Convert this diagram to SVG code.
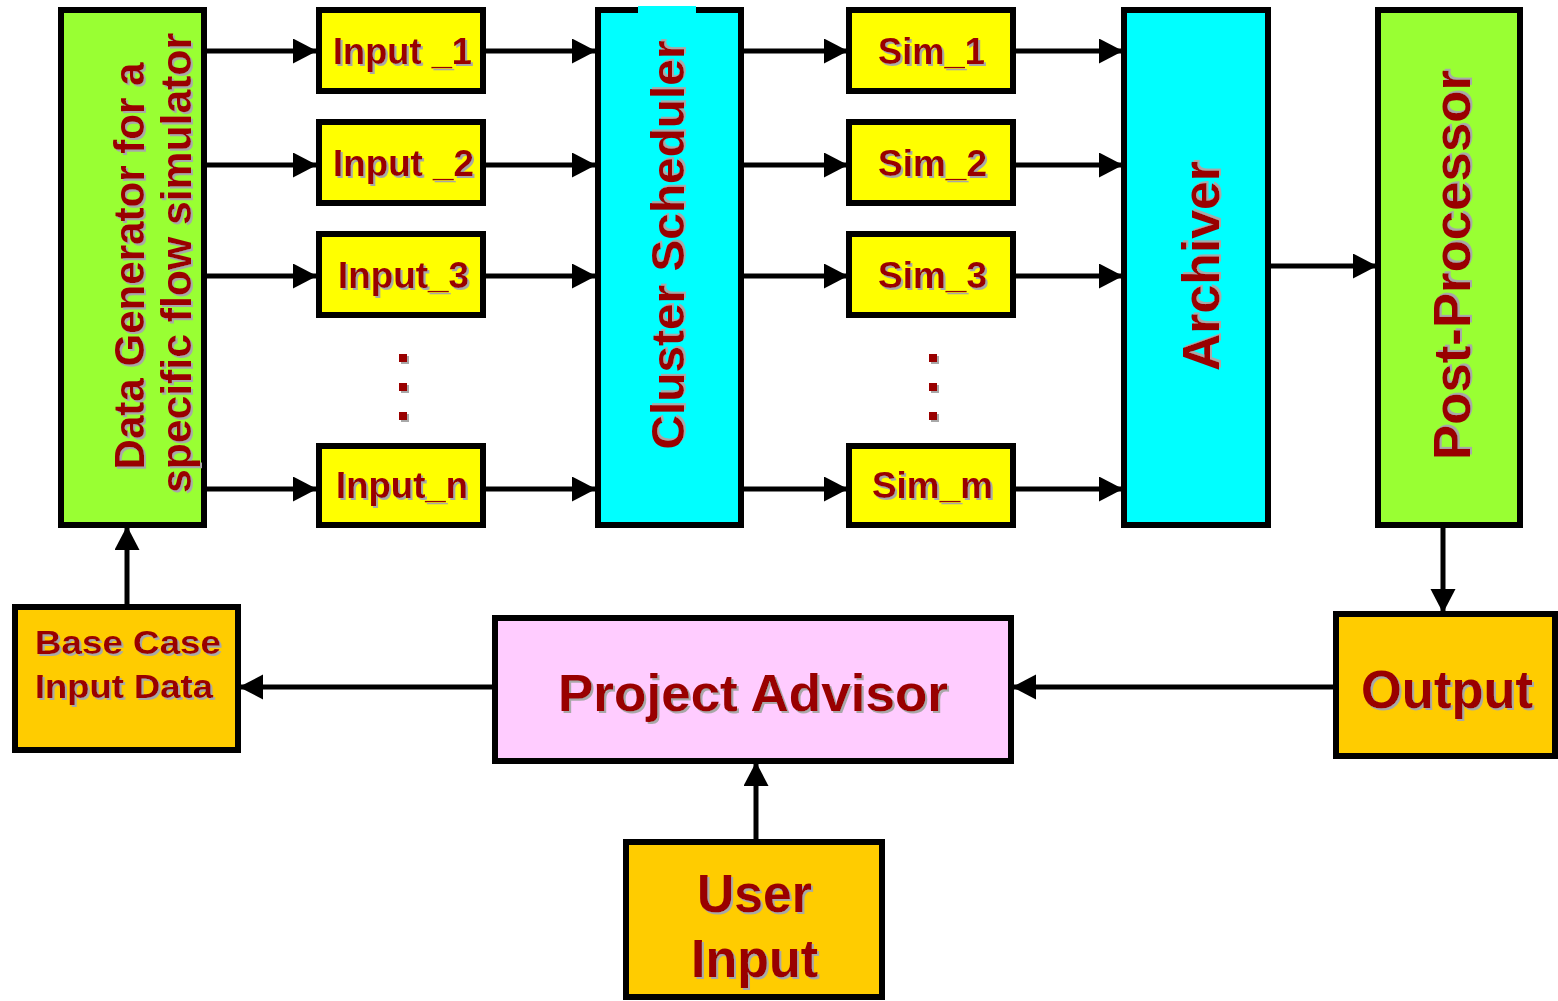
<svg xmlns="http://www.w3.org/2000/svg" width="1558" height="1001" viewBox="0 0 1558 1001">
<defs>
<style>
.box{stroke:#000;stroke-width:6}
.green{fill:#99FF33}.cyan{fill:#00FFFF}.yellow{fill:#FFFF00}.orange{fill:#FFCC00}.pink{fill:#FFCCFF}
.lbl{font-family:"Liberation Sans",Arial,sans-serif;font-weight:bold;fill:#990000}
.conn{stroke:#000;stroke-width:5;fill:none;marker-end:url(#ah)}
</style>
<filter id="sh" x="-10%" y="-10%" width="130%" height="130%">
<feDropShadow dx="2" dy="2" stdDeviation="0.4" flood-color="#a8a8a8" flood-opacity="1"/>
</filter>
<marker id="ah" markerUnits="userSpaceOnUse" markerWidth="25" markerHeight="26" refX="23" refY="12.5" orient="auto">
<path d="M0,0 L24,12.5 L0,25 Z" fill="#000"/>
</marker>
</defs>
<rect width="1558" height="1001" fill="#fff"/>

<g id="connectors">
<line class="conn" x1="206" y1="51" x2="316" y2="51"/>
<line class="conn" x1="206" y1="165" x2="316" y2="165"/>
<line class="conn" x1="206" y1="276" x2="316" y2="276"/>
<line class="conn" x1="206" y1="489" x2="316" y2="489"/>
<line class="conn" x1="485" y1="51" x2="595" y2="51"/>
<line class="conn" x1="485" y1="165" x2="595" y2="165"/>
<line class="conn" x1="485" y1="276" x2="595" y2="276"/>
<line class="conn" x1="485" y1="489" x2="595" y2="489"/>
<line class="conn" x1="743" y1="51" x2="847" y2="51"/>
<line class="conn" x1="743" y1="165" x2="847" y2="165"/>
<line class="conn" x1="743" y1="276" x2="847" y2="276"/>
<line class="conn" x1="743" y1="489" x2="847" y2="489"/>
<line class="conn" x1="1015" y1="51" x2="1122" y2="51"/>
<line class="conn" x1="1015" y1="165" x2="1122" y2="165"/>
<line class="conn" x1="1015" y1="276" x2="1122" y2="276"/>
<line class="conn" x1="1015" y1="489" x2="1122" y2="489"/>
<line class="conn" x1="1270" y1="266" x2="1376" y2="266"/>
<line class="conn" x1="1443" y1="527" x2="1443" y2="612"/>
<line class="conn" x1="1334" y1="687" x2="1013" y2="687"/>
<line class="conn" x1="493" y1="687" x2="240" y2="687"/>
<line class="conn" x1="127" y1="605" x2="127" y2="527"/>
<line class="conn" x1="756" y1="840" x2="756" y2="763"/>
</g>

<g id="datagen">
<rect class="box green" x="61" y="10" width="143" height="515"/>
<g filter="url(#sh)">
<text class="lbl" font-size="43" text-anchor="middle" transform="translate(144,266) rotate(-90)" textLength="407" lengthAdjust="spacingAndGlyphs">Data Generator for a</text>
<text class="lbl" font-size="43" text-anchor="middle" transform="translate(191,263) rotate(-90)" textLength="460" lengthAdjust="spacingAndGlyphs">specific flow simulator</text>
</g>
</g>

<g id="input1">
<rect class="box yellow" x="319" y="10" width="164" height="81"/>
<text class="lbl" filter="url(#sh)" font-size="36" x="333" y="64" textLength="139" lengthAdjust="spacingAndGlyphs">Input _1</text>
</g>
<g id="input2">
<rect class="box yellow" x="319" y="122" width="164" height="81"/>
<text class="lbl" filter="url(#sh)" font-size="36" x="333" y="176" textLength="141" lengthAdjust="spacingAndGlyphs">Input _2</text>
</g>
<g id="input3">
<rect class="box yellow" x="319" y="234" width="164" height="81"/>
<text class="lbl" filter="url(#sh)" font-size="36" x="338" y="288" textLength="131" lengthAdjust="spacingAndGlyphs">Input_3</text>
</g>
<g id="input_dots" fill="#990000" filter="url(#sh)">
<rect x="399" y="354" width="8" height="8"/>
<rect x="399" y="383" width="8" height="8"/>
<rect x="399" y="412" width="8" height="8"/>
</g>
<g id="inputn">
<rect class="box yellow" x="319" y="446" width="164" height="79"/>
<text class="lbl" filter="url(#sh)" font-size="36" x="336" y="498" textLength="132" lengthAdjust="spacingAndGlyphs">Input_n</text>
</g>

<g id="scheduler">
<rect class="box cyan" x="598" y="10" width="143" height="515"/>
<rect class="cyan" x="638" y="6" width="58" height="10"/>
<text class="lbl" filter="url(#sh)" font-size="46" text-anchor="middle" transform="translate(684,245) rotate(-90)" textLength="409" lengthAdjust="spacingAndGlyphs">Cluster Scheduler</text>
</g>

<g id="sim1">
<rect class="box yellow" x="849" y="10" width="164" height="81"/>
<text class="lbl" filter="url(#sh)" font-size="36" x="878" y="64" textLength="107" lengthAdjust="spacingAndGlyphs">Sim_1</text>
</g>
<g id="sim2">
<rect class="box yellow" x="849" y="122" width="164" height="81"/>
<text class="lbl" filter="url(#sh)" font-size="36" x="878" y="176" textLength="109" lengthAdjust="spacingAndGlyphs">Sim_2</text>
</g>
<g id="sim3">
<rect class="box yellow" x="849" y="234" width="164" height="81"/>
<text class="lbl" filter="url(#sh)" font-size="36" x="878" y="288" textLength="109" lengthAdjust="spacingAndGlyphs">Sim_3</text>
</g>
<g id="sim_dots" fill="#990000" filter="url(#sh)">
<rect x="929" y="354" width="8" height="8"/>
<rect x="929" y="383" width="8" height="8"/>
<rect x="929" y="412" width="8" height="8"/>
</g>
<g id="simm">
<rect class="box yellow" x="849" y="446" width="164" height="79"/>
<text class="lbl" filter="url(#sh)" font-size="36" x="872" y="498" textLength="121" lengthAdjust="spacingAndGlyphs">Sim_m</text>
</g>

<g id="archiver">
<rect class="box cyan" x="1124" y="10" width="144" height="515"/>
<text class="lbl" filter="url(#sh)" font-size="52" text-anchor="middle" transform="translate(1219,266) rotate(-90)" textLength="210" lengthAdjust="spacingAndGlyphs">Archiver</text>
</g>

<g id="postprocessor">
<rect class="box green" x="1378" y="10" width="142" height="515"/>
<text class="lbl" filter="url(#sh)" font-size="52" text-anchor="middle" transform="translate(1470,265) rotate(-90)" textLength="390" lengthAdjust="spacingAndGlyphs">Post-Processor</text>
</g>

<g id="basecase">
<rect class="box orange" x="15" y="607" width="223" height="143"/>
<g filter="url(#sh)">
<text class="lbl" font-size="33" x="35" y="654" textLength="186" lengthAdjust="spacingAndGlyphs">Base Case</text>
<text class="lbl" font-size="33" x="35" y="698" textLength="178" lengthAdjust="spacingAndGlyphs">Input Data</text>
</g>
</g>

<g id="advisor">
<rect class="box pink" x="495" y="618" width="516" height="143"/>
<text class="lbl" filter="url(#sh)" font-size="52" x="558" y="711" textLength="390" lengthAdjust="spacingAndGlyphs">Project Advisor</text>
</g>

<g id="output">
<rect class="box orange" x="1336" y="614" width="219" height="142"/>
<text class="lbl" filter="url(#sh)" font-size="53" x="1361" y="708" textLength="172" lengthAdjust="spacingAndGlyphs">Output</text>
</g>

<g id="userinput">
<rect class="box orange" x="626" y="842" width="256" height="155"/>
<g filter="url(#sh)">
<text class="lbl" font-size="53" x="697" y="912" textLength="115" lengthAdjust="spacingAndGlyphs">User</text>
<text class="lbl" font-size="53" x="691" y="977" textLength="127" lengthAdjust="spacingAndGlyphs">Input</text>
</g>
</g>
</svg>
